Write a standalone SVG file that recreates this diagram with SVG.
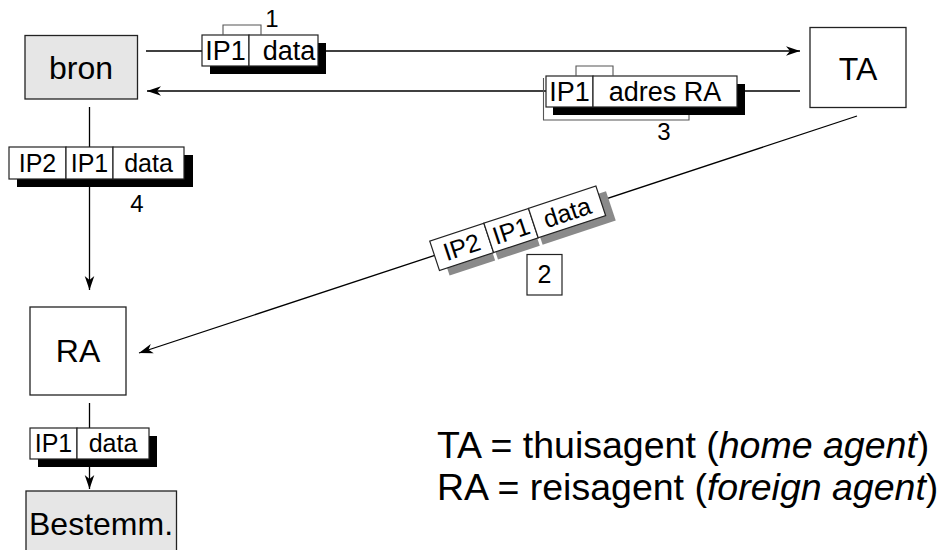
<svg xmlns="http://www.w3.org/2000/svg" width="942" height="550" viewBox="0 0 942 550">
  <style>
    text { font-family: "Liberation Sans", Arial, Helvetica, sans-serif; fill: #000; }
    .node { fill: #fff; stroke: #222; stroke-width: 1.3; }
    .gray { fill: #e6e6e6; }
    .lbl { font-size: 32px; text-anchor: middle; }
    .cell { fill: #fff; stroke: #222; stroke-width: 1.2; }
    .shadow { fill: #000; }
    .gshadow { fill: #8a8a8a; }
    .ptxt { font-size: 24px; text-anchor: middle; }
    .big { font-size: 27px; }
    .mid { font-size: 25px; }
    .num { font-size: 24px; text-anchor: middle; }
    .brk { fill: none; stroke: #555; stroke-width: 1.1; }
    .edge { fill: none; stroke: #000; stroke-width: 1.3; }
    .legend { font-size: 37.5px; }
  </style>
  <defs>
    <marker id="arr" viewBox="-15 -6 16 12" refX="0" refY="0" markerWidth="16" markerHeight="12" markerUnits="userSpaceOnUse" orient="auto">
      <path d="M0,0 L-14,-4.8 L-10,0 L-14,4.8 Z" fill="#000"/>
    </marker>
  </defs>

  <!-- connectors -->
  <g id="connectors">
    <line class="edge" x1="146" y1="51" x2="800" y2="51" marker-end="url(#arr)"/>
    <line class="edge" x1="800" y1="91" x2="147" y2="91" marker-end="url(#arr)"/>
    <line class="edge" x1="857" y1="116" x2="139" y2="353" marker-end="url(#arr)"/>
    <line class="edge" x1="89.5" y1="107" x2="89.5" y2="290" marker-end="url(#arr)"/>
    <line class="edge" x1="89.5" y1="403" x2="89.5" y2="489" marker-end="url(#arr)"/>
  </g>

  <!-- nodes -->
  <g id="bron">
    <rect class="node gray" x="25" y="35.5" width="112.5" height="63.5"/>
    <text class="lbl" x="81" y="79">bron</text>
  </g>
  <g id="ta">
    <rect class="node" x="810" y="27.5" width="96" height="80"/>
    <text class="lbl" x="858" y="80">TA</text>
  </g>
  <g id="ra">
    <rect class="node" x="30" y="307" width="96" height="88"/>
    <text class="lbl" x="78" y="362">RA</text>
  </g>
  <g id="bestemm">
    <rect class="node gray" x="26" y="491" width="150.5" height="70"/>
    <text class="lbl" x="101" y="535">Bestemm.</text>
  </g>

  <!-- packet 1: bron to TA -->
  <g id="packet1">
    <rect class="shadow" x="210" y="43" width="116" height="31"/>
    <rect class="cell" x="202" y="35" width="47" height="31"/>
    <rect class="cell" x="249" y="35" width="69" height="31"/>
    <text class="ptxt big" x="225.5" y="60">IP1</text>
    <text class="ptxt big" x="289" y="60">data</text>
    <polyline class="brk" points="223,35 223,25 261,25 261,35"/>
    <text class="num" x="272" y="27">1</text>
  </g>

  <!-- packet 3: TA back to bron -->
  <g id="packet3">
    <polyline class="brk" points="543.5,78 543.5,120 689,120 689,115"/>
    <rect class="shadow" x="553" y="84" width="192" height="31"/>
    <rect class="cell" x="546" y="76" width="47" height="31"/>
    <rect class="cell" x="593" y="76" width="144" height="31"/>
    <text class="ptxt big" x="569.5" y="101">IP1</text>
    <text class="ptxt big" x="665" y="101">adres RA</text>
    <polyline class="brk" points="576,76 576,66 613,66 613,76"/>
    <text class="num" x="664" y="140">3</text>
  </g>

  <!-- packet 4: bron to RA, tunnelled -->
  <g id="packet4">
    <rect class="shadow" x="17" y="155" width="176" height="32"/>
    <rect class="cell" x="9" y="147" width="57" height="32"/>
    <rect class="cell" x="66" y="147" width="47" height="32"/>
    <rect class="cell" x="113" y="147" width="71" height="32"/>
    <text class="ptxt mid" x="37.5" y="171.5">IP2</text>
    <text class="ptxt mid" x="89.5" y="171.5">IP1</text>
    <text class="ptxt mid" x="148.5" y="171.5">data</text>
    <text class="num" x="137" y="212">4</text>
  </g>

  <!-- packet 2: TA to RA, along the slanted link -->
  <g id="packet2" transform="translate(446,252) rotate(-18.3)">
    <rect class="gshadow" x="-4" y="-7.5" width="48" height="31"/>
    <rect class="gshadow" x="47" y="-7.5" width="44" height="31"/>
    <rect class="gshadow" x="94" y="-7.5" width="77" height="31"/>
    <rect class="cell" x="-12" y="-15.5" width="57" height="31"/>
    <rect class="cell" x="45" y="-15.5" width="47" height="31"/>
    <rect class="cell" x="92" y="-15.5" width="71" height="31"/>
    <text class="ptxt mid" x="16.5" y="9">IP2</text>
    <text class="ptxt mid" x="68.5" y="9">IP1</text>
    <text class="ptxt mid" x="127.5" y="9">data</text>
  </g>
  <g id="label2">
    <rect class="cell" x="527" y="254.5" width="35" height="40.5"/>
    <text class="ptxt mid" x="544.5" y="283">2</text>
  </g>

  <!-- packet 5: RA to destination -->
  <g id="packet5">
    <rect class="shadow" x="38" y="436" width="119" height="31"/>
    <rect class="cell" x="30" y="428" width="47" height="31"/>
    <rect class="cell" x="77" y="428" width="72" height="31"/>
    <text class="ptxt mid" x="53.5" y="451.5">IP1</text>
    <text class="ptxt mid" x="113" y="451.5">data</text>
  </g>

  <!-- legend -->
  <g id="legend">
    <text class="legend" x="437" y="458">TA = thuisagent (<tspan font-style="italic">home agent</tspan>)</text>
    <text class="legend" x="437" y="500">RA = reisagent (<tspan font-style="italic">foreign agent</tspan>)</text>
  </g>
</svg>
